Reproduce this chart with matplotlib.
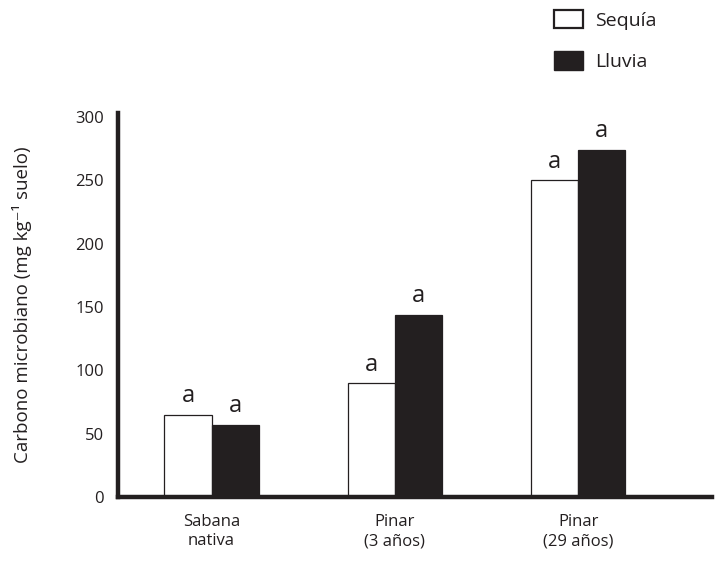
import matplotlib
matplotlib.use("Agg")
import matplotlib.pyplot as plt
import numpy as np
from matplotlib.patches import Patch

plt.rcParams['font.family'] = ['Open Sans', 'DejaVu Sans']

categories = ["Sabana\nnativa", "Pinar\n(3 años)", "Pinar\n(29 años)"]
sequia = [65, 90, 250]
lluvia = [57, 144, 274]
letras_sequia = ["a", "a", "a"]
letras_lluvia = ["a", "a", "a"]
yticks = [0, 50, 100, 150, 200, 250, 300]

dark = "#231f20"
fig = plt.figure(figsize=(7.21, 5.67), dpi=100)
ax = fig.add_axes([118 / 721, 70 / 567, 594 / 721, 384 / 567])

x = np.arange(len(categories))
w = 0.257
ax.bar(x - w / 2, sequia, w, color="white", edgecolor=dark, linewidth=0.9, zorder=2)
ax.bar(x + w / 2, lluvia, w, color=dark, edgecolor=dark, linewidth=0.9, zorder=2)

for xi, v, t in zip(x - w / 2, sequia, letras_sequia):
    ax.text(xi, v + 5, t, ha="center", va="bottom", fontsize=17, color=dark)
for xi, v, t in zip(x + w / 2, lluvia, letras_lluvia):
    ax.text(xi, v + 5, t, ha="center", va="bottom", fontsize=17, color=dark)

ax.set_xlim(-0.51, 2.73)
ax.set_ylim(0, 303)
ax.set_yticks(yticks)
ax.set_xticks(x)
ax.set_xticklabels(categories, fontsize=12, color=dark, linespacing=1.3)
ax.tick_params(axis="y", length=0, pad=10, labelsize=12, labelcolor=dark)
ax.tick_params(axis="x", length=0, pad=12)

for s in ["top", "right"]:
    ax.spines[s].set_visible(False)
for s in ["left", "bottom"]:
    ax.spines[s].set_linewidth(3.2)
    ax.spines[s].set_color(dark)

ax.set_ylabel("Carbono microbiano (mg kg⁻¹ suelo)", fontsize=13.5, color=dark, labelpad=31)

handles = [Patch(facecolor="white", edgecolor=dark, linewidth=1.6, label="Sequía"),
           Patch(facecolor=dark, edgecolor=dark, label="Lluvia")]
fig.legend(handles=handles, loc="upper left", bbox_to_anchor=(540 / 721, 1 + 4 / 567),
           frameon=False, fontsize=14, handlelength=1.5, handleheight=1.1,
           labelspacing=1.1, handletextpad=0.65, labelcolor=dark, borderaxespad=0.3)

fig.savefig("out.png", dpi=100)
